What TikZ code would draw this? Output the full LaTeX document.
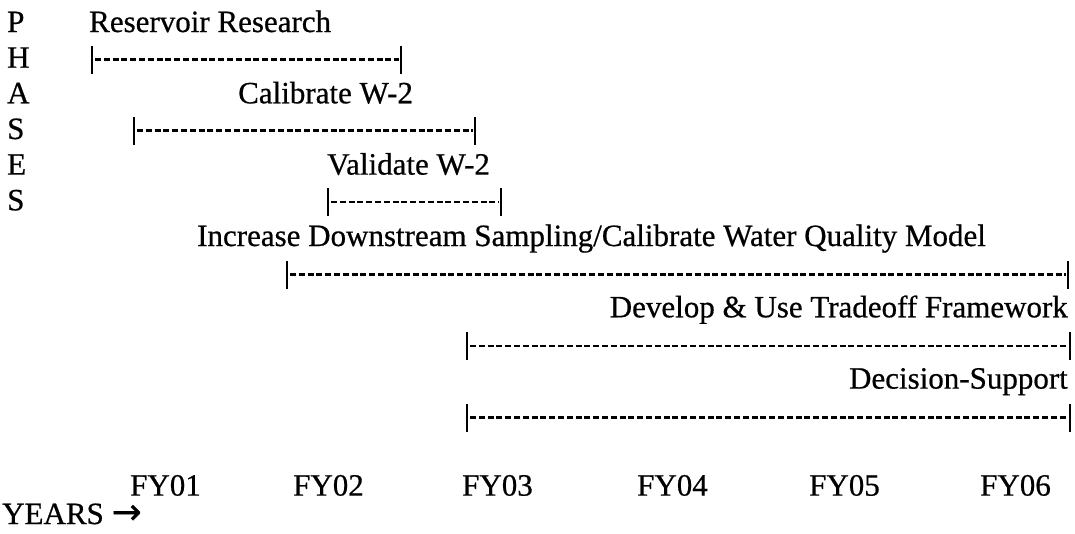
\documentclass[tikz,border=0pt]{standalone}
\usepackage{fontspec}
\setmainfont{Liberation Serif}[FakeBold=0.6]
\newfontfamily\symfont{DejaVu Sans}[FakeBold=0.6]
\begin{document}
\begin{tikzpicture}[x=1pt,y=-1pt,
  lbl/.style={inner sep=0pt, anchor=base west, font=\fontsize{31}{36}\selectfont},
  lblr/.style={lbl, anchor=base east},
  dashbar/.style={line width=2.4pt, dash pattern=on 6pt off 2.8pt},
  endtick/.style={line width=2pt}]
\useasboundingbox[fill=white] (0,0) rectangle (1075,533);
% vertical label
\node[lbl] (lp)  at (7,32)    {P};
\node[lbl] (lh)  at (7,67.7)  {H};
\node[lbl] (la)  at (7,103.3) {A};
\node[lbl] (ls1) at (7,139)   {S};
\node[lbl] (le)  at (7,174.6) {E};
\node[lbl] (ls2) at (7,210.3) {S};
% phase titles
\node[lbl] (t1) at (89,32)    {Reservoir Research};
\node[lbl] (t2) at (238,103.3) {Calibrate W-2};
\node[lbl] (t3) at (327,174.6) {Validate W-2};
\node[lbl] (t4) at (197,246)  {Increase Downstream Sampling/Calibrate Water Quality Model};
\node[lblr] (t5) at (1068,317.3) {Develop \& Use Tradeoff Framework};
\node[lblr] (t6) at (1068,388.6) {Decision-Support};
% bar end points (at hyphen height)
\coordinate (b1s) at (92,59.5);   \coordinate (b1e) at (401,59.5);
\coordinate (b2s) at (134,130.5); \coordinate (b2e) at (475,130.5);
\coordinate (b3s) at (328,202);   \coordinate (b3e) at (501,202);
\coordinate (b4s) at (287,274.5); \coordinate (b4e) at (1068,274.5);
\coordinate (b5s) at (467,346);   \coordinate (b5e) at (1070,346);
\coordinate (b6s) at (467,417.5); \coordinate (b6e) at (1070,417.5);
\foreach \b in {b1,b2,b3,b4,b5,b6}{
  \draw[dashbar] ([xshift=3pt]\b s) -- ([xshift=-2pt]\b e);
  \draw[endtick] ([yshift=-14pt]\b s) -- ([yshift=14pt]\b s);
  \draw[endtick] ([yshift=-14pt]\b e) -- ([yshift=14pt]\b e);
}
% years
\node[lbl] (fy1) at (130,495.6) {FY01};
\node[lbl] (fy2) at (293,495.6) {FY02};
\node[lbl] (fy3) at (462,495.6) {FY03};
\node[lbl] (fy4) at (637,495.6) {FY04};
\node[lbl] (fy5) at (809,495.6) {FY05};
\node[lbl] (fy6) at (980,495.6) {FY06};
\node[lbl] (yrs) at (2,524) {YEARS {\symfont\fontsize{36}{36}\selectfont →}};
\end{tikzpicture}
\end{document}
